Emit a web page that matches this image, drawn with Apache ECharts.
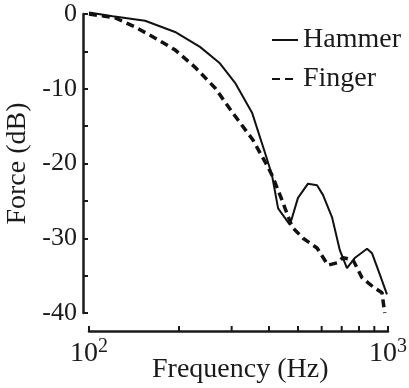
<!DOCTYPE html>
<html>
<head>
<meta charset="utf-8">
<script src="https://cdn.jsdelivr.net/npm/echarts@6/dist/echarts.min.js"></script>
<style>
    html, body { margin: 0; padding: 0; background: #fff; }
    #container { width: 409px; height: 388px; }
</style>
</head>
<body>
<div id="container"></div>
<script>
// frequency (Hz), force (dB)
const hammer = [
    [100, 0.2], [120, -0.3], [154, -0.9], [194, -2.4], [235, -4.4], [274, -6.6],
    [308, -9.2], [351, -13.2], [388, -18.6], [409, -21.5], [429, -26.0], [470, -28.2],
    [500, -24.6], [540, -22.7], [579, -22.9], [606, -24.2], [650, -27.2], [690, -31.6],
    [729, -34.0], [776, -32.6], [851, -31.4], [884, -32.0], [940, -34.9], [992, -37.5],
];
const finger = [
    [100, 0], [122, -0.5], [142, -1.7], [166, -3.2], [194, -4.8], [226, -7.1],
    [264, -9.9], [301, -13.1], [354, -16.9], [397, -20.5], [412, -21.8], [442, -24.9],
    [478, -28.5], [520, -30.0], [579, -31.3], [630, -33.6], [675, -33.3], [707, -32.6],
    [764, -32.9], [819, -35.3], [891, -36.5], [955, -37.3], [965, -38.7], [975, -40.0],
];
const minorFreqTicks = [200, 300, 400, 500, 600, 700, 800, 900];

const font = 'Liberation Serif';
const ink = '#1a1a1a';
const xOffset = 18;

const chart = echarts.init(document.getElementById('container'));

chart.setOption({
    animation: false,
    // x axis name as a title: the axis name gets pushed below the 10^n labels
    title: {
        text: 'Frequency (Hz)',
        left: 152,
        top: 356,
        padding: 0,
        textStyle: { fontFamily: font, fontSize: 28, fontWeight: 'normal', color: ink },
    },
    grid: { left: 89, right: 21, top: 14, bottom: 75, outerBoundsMode: 'none', containLabel: false },
    legend: {
        data: ['Hammer', 'Finger'],
        orient: 'vertical',
        left: 271,
        top: 26,
        padding: 0,
        itemWidth: 26,
        itemHeight: 14,
        itemGap: 11,
        itemStyle: { opacity: 0, borderWidth: 0 },
        textStyle: { fontFamily: font, fontSize: 28, color: ink },
    },
    xAxis: {
        type: 'log',
        logBase: 10,
        min: 100,
        max: 1000,
        offset: xOffset,
        axisLine: { onZero: false, lineStyle: { color: ink, width: 2.5 } },
        axisTick: { inside: true, length: 5, lineStyle: { color: ink, width: 2 } },
        splitLine: { show: false },
        axisLabel: {
            margin: 6,
            formatter: (v) => '{b|10}{s|' + Math.round(Math.log10(v)) + '}',
            rich: {
                b: { fontFamily: font, fontSize: 28, color: ink },
                s: { fontFamily: font, fontSize: 20, color: ink, verticalAlign: 'top', padding: [0, 0, 14, 0] },
            },
        },
    },
    yAxis: {
        type: 'value',
        min: -40,
        max: 0,
        interval: 10,
        offset: 6,
        name: 'Force (dB)',
        nameLocation: 'middle',
        nameGap: 40,
        nameTextStyle: { fontFamily: font, fontSize: 28, color: ink },
        axisLine: { show: true, onZero: false, lineStyle: { color: ink, width: 2.5 } },
        axisTick: { show: true, inside: true, length: 5, lineStyle: { color: ink, width: 2 } },
        minorTick: { show: true, splitNumber: 2, length: 5, lineStyle: { color: ink, width: 2 } },
        splitLine: { show: false },
        axisLabel: { margin: 6, fontFamily: font, fontSize: 26, color: ink },
    },
    series: [
        {
            name: 'Hammer',
            type: 'line',
            data: hammer,
            symbol: 'none',
            clip: false,
            color: '#111',
            lineStyle: { color: '#111', width: 2 },
        },
        {
            name: 'Finger',
            type: 'line',
            data: finger,
            symbol: 'none',
            clip: false,
            color: '#111',
            lineStyle: { color: '#111', width: 3.5, type: [8, 5] },
        },
        {
            // minor ticks of the log x axis
            type: 'custom',
            clip: false,
            silent: true,
            data: minorFreqTicks.map((f) => [f, -40]),
            renderItem: (params, api) => {
                const p = api.coord([api.value(0), api.value(1)]);
                const y = p[1] + xOffset;
                return {
                    type: 'line',
                    shape: { x1: p[0], y1: y, x2: p[0], y2: y - 5 },
                    style: { stroke: ink, lineWidth: 2 },
                };
            },
        },
    ],
});
</script>
</body>
</html>
